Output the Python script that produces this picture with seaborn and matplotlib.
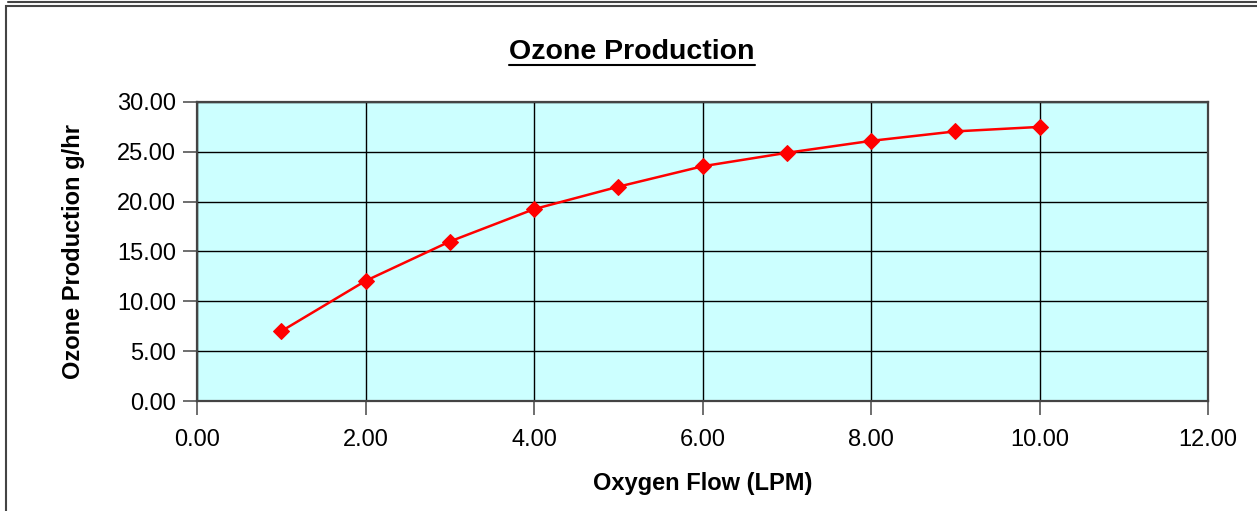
import pandas as pd
import matplotlib.pyplot as plt
import seaborn as sns
from matplotlib.patches import Rectangle
from matplotlib.lines import Line2D

# Values
oxygen_flow = [1, 2, 3, 4, 5, 6, 7, 8, 9, 10]
ozone_production = [7.0, 12.05, 16.0, 19.25, 21.5, 23.55, 24.9, 26.1, 27.05, 27.5]
x_ticks = [0, 2, 4, 6, 8, 10, 12]
y_ticks = [0, 5, 10, 15, 20, 25, 30]

data = pd.DataFrame({'Oxygen Flow': oxygen_flow, 'Ozone': ozone_production})

sns.set_style('white')
plt.rcParams['font.family'] = ['Liberation Sans', 'DejaVu Sans']
plt.rcParams['text.color'] = 'black'
plt.rcParams['axes.labelcolor'] = 'black'
plt.rcParams['xtick.color'] = 'black'
plt.rcParams['ytick.color'] = 'black'

fig = plt.figure(figsize=(12.57, 5.11), dpi=100)
ax = fig.add_axes([197 / 1257, 1 - 401 / 511, (1208 - 197) / 1257, (401 - 102) / 511])
ax.set_facecolor('#CCFFFF')

sns.lineplot(data=data, x='Oxygen Flow', y='Ozone', ax=ax, color='#FF0000',
             linewidth=1.8, marker='D', markersize=8, markeredgecolor='#FF0000')

ax.set_xlim(0, 12)
ax.set_ylim(0, 30)
ax.set_xticks(x_ticks)
ax.set_yticks(y_ticks)
ax.set_xticklabels([f'{v:.2f}' for v in x_ticks])
ax.set_yticklabels([f'{v:.2f}' for v in y_ticks])
ax.tick_params(axis='both', labelsize=17, direction='out', length=10, width=1.2,
               color='#555555', left=True, bottom=True)
ax.tick_params(axis='x', pad=10)
ax.tick_params(axis='y', pad=5)
ax.grid(True, color='black', linewidth=1)
ax.set_axisbelow(True)
for side in ax.spines.values():
    side.set_color('#444444')
    side.set_linewidth(1.6)

ax.set_xlabel('Oxygen Flow (LPM)', fontsize=17, fontweight='bold', labelpad=15)
ax.set_ylabel('Ozone Production g/hr', fontsize=17, fontweight='bold', labelpad=23)

title = fig.text(632 / 1257, 1 - 52 / 511, 'Ozone Production', fontsize=20.5,
                 fontweight='bold', ha='center', va='center')
# underline under the title, matched to the text width
fig.canvas.draw()
bb = title.get_window_extent().transformed(fig.transFigure.inverted())
uy = 1 - 65 / 511
fig.add_artist(Line2D([bb.x0, bb.x1], [uy, uy], color='black', linewidth=1.5,
                      transform=fig.transFigure))

# chart frame like the spreadsheet export
fig.add_artist(Rectangle((6 / 1257, -0.01), 1.1, 1 - 6 / 511 + 0.01, fill=False,
                         edgecolor='#444444', linewidth=1.5, transform=fig.transFigure))
fig.add_artist(Line2D([8 / 1257, 1], [1 - 2 / 511, 1 - 2 / 511], color='#444444',
                      linewidth=1.5, transform=fig.transFigure))

fig.savefig('out.png', dpi=100)
